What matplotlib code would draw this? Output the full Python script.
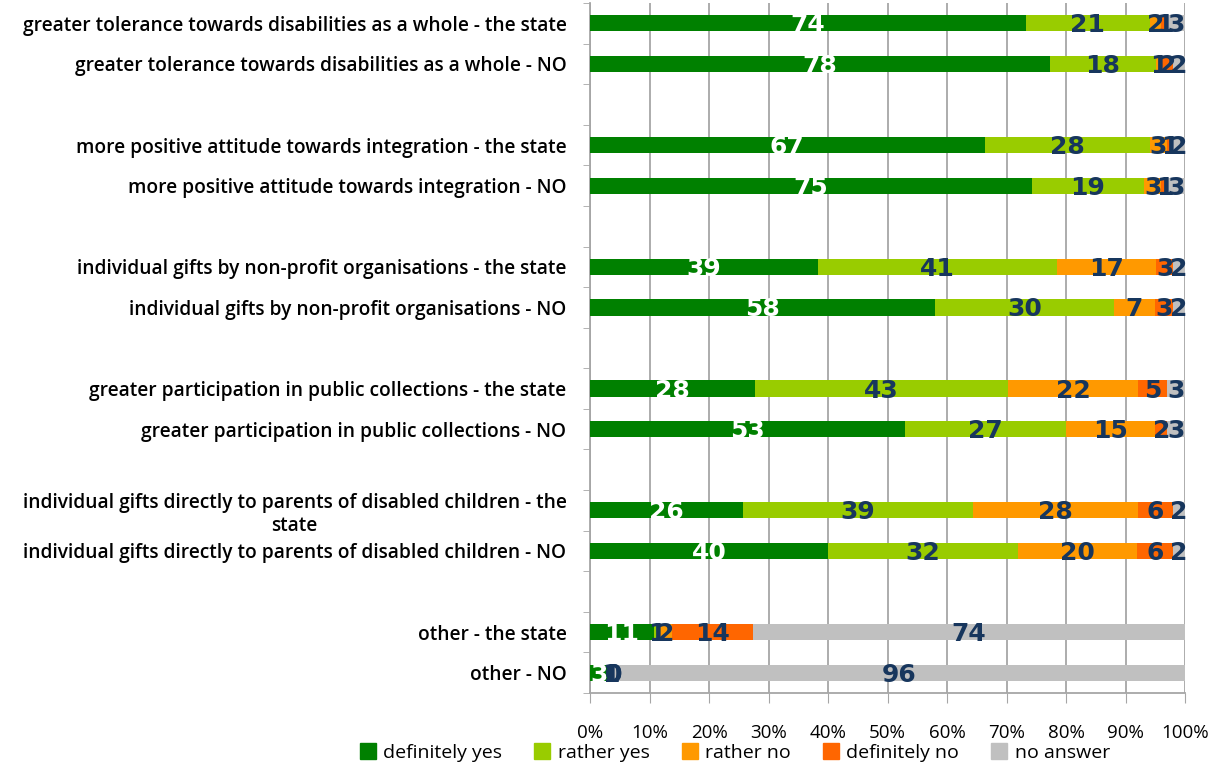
import matplotlib.pyplot as plt
import numpy as np

categories = [
    "greater tolerance towards disabilities as a whole - the state",
    "greater tolerance towards disabilities as a whole - NO",
    "more positive attitude towards integration - the state",
    "more positive attitude towards integration - NO",
    "individual gifts by non-profit organisations - the state",
    "individual gifts by non-profit organisations - NO",
    "greater participation in public collections - the state",
    "greater participation in public collections - NO",
    "individual gifts directly to parents of disabled children - the\nstate",
    "individual gifts directly to parents of disabled children - NO",
    "other - the state",
    "other - NO",
]

definitely_yes = [74, 78, 67, 75, 39, 58, 28, 53, 26, 40, 11, 3]
rather_yes = [21, 18, 28, 19, 41, 30, 43, 27, 39, 32, 1, 1]
rather_no = [2, 1, 3, 3, 17, 7, 22, 15, 28, 20, 2, 0]
definitely_no = [1, 2, 1, 1, 3, 3, 5, 2, 6, 6, 14, 0]
no_answer = [3, 2, 2, 3, 2, 2, 3, 3, 2, 2, 74, 96]

series_names = ["definitely yes", "rather yes", "rather no", "definitely no", "no answer"]
series_colors = ["#008000", "#99CC00", "#FF9900", "#FF6600", "#C0C0C0"]
label_colors = ["white", "#17365D", "#17365D", "#17365D", "#17365D"]

x_ticks = [0, 10, 20, 30, 40, 50, 60, 70, 80, 90, 100]

# rows are laid out in pairs with an empty slot between pairs
positions = []
slot = 0
for i in range(len(categories)):
    positions.append(slot)
    slot += 1
    if i % 2 == 1:
        slot += 1
last = positions[-1]

values = np.array([definitely_yes, rather_yes, rather_no, definitely_no, no_answer], dtype=float)
totals = values.sum(axis=0)
shares = values / totals * 100

fig = plt.figure(figsize=(12.14, 7.62), dpi=100)
ax = fig.add_axes([590 / 1214, 1 - 693 / 762, 595 / 1214, 690 / 762])

left = np.zeros(len(categories))
for k in range(len(series_names)):
    ax.barh(positions, shares[k], left=left, height=0.4, color=series_colors[k],
            label=series_names[k], zorder=3)
    for i, y in enumerate(positions):
        ax.text(left[i] + shares[k][i] / 2, y + 0.05, f"{int(values[k][i])}",
                ha="center", va="center", color=label_colors[k],
                fontsize=18, fontweight="bold", family="DejaVu Sans", zorder=4)
    left += shares[k]

ax.set_xlim(0, 100)
ax.set_ylim(last + 0.5, -0.5)
ax.set_xticks(x_ticks)
ax.set_xticklabels([f"{t}%" for t in x_ticks], fontsize=13.5, family="Open Sans")
ax.xaxis.grid(True, color="#A6A6A6", linewidth=1.3, zorder=0)
ax.tick_params(axis="x", length=7, color="#A6A6A6", pad=15)

ax.set_yticks(positions)
ax.set_yticklabels(categories, fontsize=13.8, family="Open Sans", fontweight="semibold",
                   multialignment="center")
ax.tick_params(axis="y", length=0, pad=17)
ax.set_yticks(np.arange(-0.5, last + 1, 1), minor=True)
ax.tick_params(axis="y", which="minor", length=5, color="#A6A6A6")

for side in ["top", "right"]:
    ax.spines[side].set_visible(False)
for side in ["left", "bottom"]:
    ax.spines[side].set_color("#A6A6A6")
    ax.spines[side].set_linewidth(1.3)

handles = [plt.Line2D([], [], marker="s", linestyle="", markersize=11,
                      color=c) for c in series_colors]
fig.legend(handles, series_names, loc="center", bbox_to_anchor=(0.605, 0.012),
           ncol=5, frameon=False, prop={"family": "Open Sans", "size": 14},
           handlelength=0.9, handletextpad=0.35, columnspacing=1.6,
           borderaxespad=0, borderpad=0)

fig.savefig("out.png", dpi=100)
